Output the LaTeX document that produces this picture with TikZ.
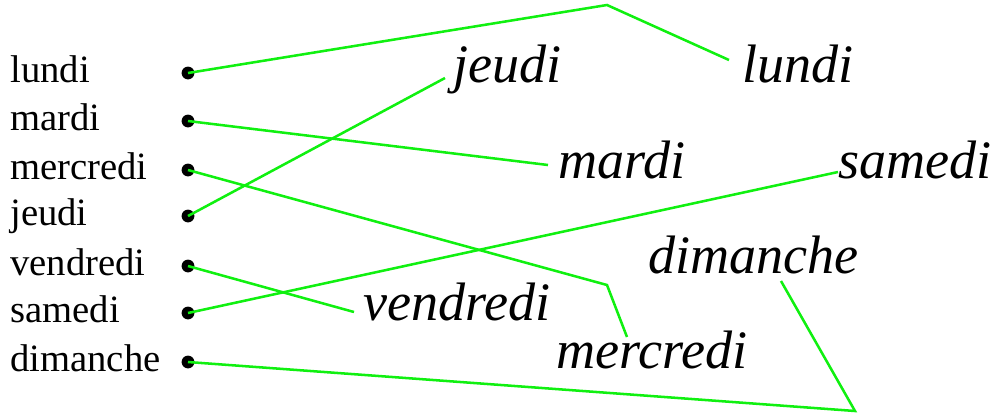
\documentclass[tikz,border=0pt]{standalone}
\usepackage{fontspec}
\setmainfont{Liberation Serif}
\usepackage{tikz}
\usetikzlibrary{positioning}
\definecolor{verde}{HTML}{10F010}
\newcommand\cursif{\itshape\fontsize{38.5}{42}\selectfont}

\begin{document}
\begin{tikzpicture}[x=0.025cm,y=-0.025cm,
      jour/.style={anchor=base west,inner sep=0pt,font=\fontsize{27.5}{30}\selectfont},
      point/.style={circle,fill=black,inner sep=0pt,minimum size=0.32cm},
      mot/.style={anchor=base west,inner sep=0pt,font=\cursif},
      trait/.style={draw=verde,line width=1.8pt,line join=miter}]
    \useasboundingbox (0,0) rectangle (1002,417);
    % colonne de gauche
    \foreach \j/\y [count=\i] in {lundi/73,mardi/121,mercredi/170,jeudi/216,
                                  vendredi/266,samedi/313,dimanche/362} {
      \node[jour] (t\i) at (10,\y+9) {\j};
      \node[point] (p\i) at (188,\y) {};
    }
    % mots en cursive
    \node[mot] (lundi) at (742,82) {lundi};
    \node[mot] (jeudi) at (453,82) {jeudi};
    \node[mot] (mardi) at (558,178) {mardi};
    \node[mot] (samedi) at (838,178) {samedi};
    \node[mot] (dimanche) at (648,273) {dimanche};
    \node[mot] (vendredi) at (363,320) {vendredi};
    \node[mot] (mercredi) at (556,368) {mercredi};
    % bouts des traits
    \coordinate (a1) at (729,60);  \coordinate (b1) at (607,5);
    \coordinate (a2) at (548,165);
    \coordinate (a3) at (627,337); \coordinate (b3) at (607,285);
    \coordinate (a4) at (445,78);
    \coordinate (a5) at (354,312);
    \coordinate (a6) at (838,172);
    \coordinate (a7) at (781,281); \coordinate (b7) at (855,411);
    \draw[trait] (p1.center) -- (b1) -- (a1);
    \draw[trait] (p3.center) -- (b3) -- (a3);
    \draw[trait] (p7.center) -- (b7) -- (a7);
    \foreach \i in {2,4,5,6} \draw[trait] (p\i.center) -- (a\i);
  \end{tikzpicture}
\end{document}
